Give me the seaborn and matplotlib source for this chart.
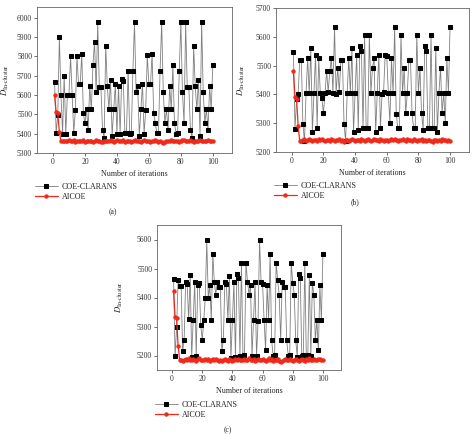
import numpy as np
import pandas as pd
import matplotlib
matplotlib.use("Agg")
import matplotlib.pyplot as plt
from matplotlib.ticker import MultipleLocator
import seaborn as sns

# iterations 1..100
iterations = list(range(1, 101))

# (a) COE-CLARANS / AICOE
coe_a = [5667, 5403, 5497, 5900, 5600, 5400, 5700, 5400, 5600, 5600,
         5800, 5600, 5405, 5520, 5800, 5655, 5655, 5810, 5505, 5455,
         5525, 5420, 5645, 5525, 5755, 5875, 5615, 5975, 5640, 5640,
         5418, 5380, 5855, 5645, 5525, 5680, 5390, 5525, 5655, 5400,
         5645, 5400, 5685, 5670, 5405, 5405, 5725, 5400, 5405, 5725,
         5975, 5615, 5645, 5390, 5525, 5655, 5400, 5520, 5805, 5655,
         5655, 5810, 5505, 5455, 5405, 5405, 5725, 5975, 5615, 5455,
         5525, 5420, 5645, 5525, 5755, 5455, 5400, 5405, 5725, 5975,
         5615, 5455, 5975, 5640, 5640, 5420, 5380, 5855, 5645, 5525,
         5680, 5390, 5975, 5615, 5455, 5525, 5420, 5645, 5525, 5755]
aicoe_a = [5600, 5510, 5505, 5408, 5362, 5360, 5364, 5361, 5363, 5366,
           5360, 5362, 5365, 5358, 5361, 5364, 5360, 5363, 5366, 5359,
           5362, 5360, 5364, 5361, 5358, 5363, 5366, 5360, 5362, 5359,
           5357, 5361, 5364, 5360, 5363, 5367, 5361, 5359, 5362, 5365,
           5360, 5363, 5361, 5366, 5359, 5362, 5364, 5360, 5358, 5362,
           5365, 5361, 5360, 5363, 5359, 5362, 5366, 5360, 5361, 5364,
           5358, 5362, 5360, 5365, 5361, 5359, 5363, 5356, 5354, 5357,
           5360, 5363, 5361, 5365, 5362, 5360, 5364, 5361, 5359, 5363,
           5366, 5368, 5362, 5360, 5364, 5367, 5361, 5359, 5363, 5360,
           5362, 5365, 5361, 5363, 5360, 5362, 5366, 5361, 5360, 5363]

# (b)
coe_b = [5548, 5280, 5383, 5402, 5520, 5520, 5298, 5237, 5404, 5525,
         5405, 5560, 5270, 5405, 5538, 5283, 5525, 5405, 5386, 5335,
         5405, 5480, 5410, 5480, 5525, 5405, 5633, 5400, 5493, 5408,
         5520, 5520, 5298, 5237, 5404, 5525, 5405, 5560, 5270, 5405,
         5538, 5278, 5567, 5550, 5283, 5605, 5283, 5285, 5605, 5405,
         5493, 5525, 5270, 5405, 5538, 5283, 5400, 5408, 5538, 5535,
         5405, 5300, 5525, 5405, 5633, 5333, 5283, 5285, 5605, 5405,
         5493, 5335, 5405, 5520, 5520, 5335, 5283, 5285, 5605, 5405,
         5493, 5335, 5278, 5567, 5550, 5283, 5285, 5605, 5283, 5285,
         5560, 5270, 5405, 5493, 5335, 5405, 5300, 5525, 5405, 5633]
aicoe_b = [5480, 5390, 5385, 5290, 5237, 5238, 5241, 5244, 5239, 5242,
           5245, 5240, 5238, 5243, 5241, 5239, 5244, 5240, 5246, 5242,
           5239, 5243, 5240, 5238, 5245, 5241, 5239, 5242, 5240, 5244,
           5238, 5241, 5236, 5240, 5243, 5239, 5242, 5245, 5240, 5238,
           5243, 5241, 5239, 5244, 5240, 5237, 5242, 5245, 5241, 5239,
           5243, 5246, 5240, 5242, 5239, 5244, 5241, 5238, 5243, 5240,
           5237, 5241, 5244, 5240, 5246, 5242, 5239, 5243, 5240, 5245,
           5241, 5238, 5244, 5240, 5242, 5239, 5245, 5241, 5238, 5243,
           5240, 5244, 5239, 5242, 5237, 5241, 5243, 5238, 5236, 5240,
           5243, 5239, 5241, 5238, 5244, 5240, 5242, 5239, 5243, 5238]

# (c)
coe_c = [5465, 5197, 5297, 5460, 5438, 5438, 5215, 5255, 5455, 5445,
         5325, 5477, 5195, 5322, 5453, 5198, 5442, 5450, 5305, 5253,
         5322, 5397, 5597, 5397, 5442, 5322, 5550, 5453, 5410, 5453,
         5437, 5437, 5215, 5253, 5453, 5445, 5322, 5475, 5190, 5322,
         5453, 5195, 5482, 5467, 5198, 5520, 5198, 5202, 5520, 5455,
         5410, 5442, 5200, 5322, 5453, 5198, 5318, 5597, 5453, 5447,
         5322, 5218, 5442, 5322, 5550, 5252, 5200, 5202, 5520, 5460,
         5410, 5252, 5453, 5437, 5437, 5252, 5200, 5202, 5520, 5450,
         5410, 5252, 5195, 5482, 5467, 5198, 5202, 5520, 5198, 5202,
         5477, 5198, 5450, 5410, 5252, 5322, 5218, 5442, 5322, 5550]
aicoe_c = [5423, 5332, 5328, 5233, 5186, 5184, 5182, 5185, 5188, 5183,
           5190, 5186, 5184, 5188, 5185, 5182, 5187, 5190, 5184, 5186,
           5183, 5188, 5185, 5187, 5182, 5186, 5189, 5184, 5187, 5185,
           5182, 5186, 5180, 5184, 5187, 5185, 5182, 5188, 5184, 5180,
           5185, 5187, 5184, 5189, 5186, 5183, 5185, 5188, 5184, 5186,
           5190, 5185, 5183, 5187, 5180, 5184, 5188, 5186, 5183, 5189,
           5185, 5182, 5186, 5190, 5184, 5187, 5180, 5183, 5186, 5188,
           5182, 5178, 5181, 5184, 5187, 5183, 5186, 5189, 5184, 5182,
           5186, 5189, 5183, 5181, 5186, 5188, 5184, 5182, 5187, 5185,
           5190, 5186, 5183, 5188, 5185, 5184, 5187, 5189, 5184, 5186]

panel_tags = ["(a)", "(b)", "(c)"]
ylims = [(5300, 6055), (5200, 5700), (5150, 5650)]
yticks = [(5300, 6000), (5200, 5700), (5200, 5600)]

sns.set_style("ticks")
plt.rcParams["font.family"] = ["Liberation Serif", "DejaVu Serif"]
plt.rcParams["mathtext.fontset"] = "stix"

W, H = 474, 434
fig = plt.figure(figsize=(W / 100, H / 100), dpi=100)

# axes boxes in pixels: left, right, top, bottom
boxes = [(37, 232, 7, 153), (276, 469, 8, 152), (157, 341, 225, 370)]
ylab_x = [-0.135, -0.15, -0.174]
tag_pos = [(113, 212), (355, 202), (228, 430)]
leg_top = [183, 182, 401]

series = [(coe_a, aicoe_a), (coe_b, aicoe_b), (coe_c, aicoe_c)]

for i, ((coe, aic), (l, r, t, b)) in enumerate(zip(series, boxes)):
    ax = fig.add_axes([l / W, 1 - b / H, (r - l) / W, (b - t) / H])
    df = pd.DataFrame({"it": iterations, "coe": coe, "aicoe": aic})

    sns.lineplot(data=df, x="it", y="coe", ax=ax, color="#808080", lw=0.6,
                 marker="s", markersize=2.6, markerfacecolor="black",
                 markeredgecolor="black", label="COE-CLARANS")
    sns.lineplot(data=df, x="it", y="aicoe", ax=ax, color="#f0291b", lw=0.9,
                 marker="o", markersize=2.4, markerfacecolor="#f0291b",
                 markeredgecolor="#f0291b", label="AICOE")

    ax.set_xlim(-10, 112)
    ax.set_ylim(*ylims[i])
    ax.xaxis.set_major_locator(MultipleLocator(20))
    ax.set_yticks(np.arange(yticks[i][0], yticks[i][1] + 1, 100))

    ax.tick_params(labelsize=5.5, length=2, width=0.5, pad=1.5,
                   colors="#333333")
    for s in ax.spines.values():
        s.set_linewidth(0.6)
        s.set_color("#666666")

    ax.set_xlabel("Number of iterations", fontsize=5.8, labelpad=3)
    ax.set_ylabel(r"$D_{\mathrm{In}\text{-}\mathrm{cluster}}$", fontsize=6.3)
    ax.yaxis.set_label_coords(ylab_x[i], 0.5)

    h, lab = ax.get_legend_handles_labels()
    ax.legend(h, lab, loc="upper left",
              bbox_to_anchor=(l / W - 0.004, 1 - leg_top[i] / H),
              bbox_transform=fig.transFigure, frameon=False, fontsize=5.8,
              handlelength=2.8, handletextpad=0.5, labelspacing=0.25,
              borderpad=0, borderaxespad=0)

    fig.text(tag_pos[i][0] / W, 1 - tag_pos[i][1] / H, panel_tags[i],
             fontsize=5.5, ha="center", va="center")

fig.savefig("out.png", dpi=100)
